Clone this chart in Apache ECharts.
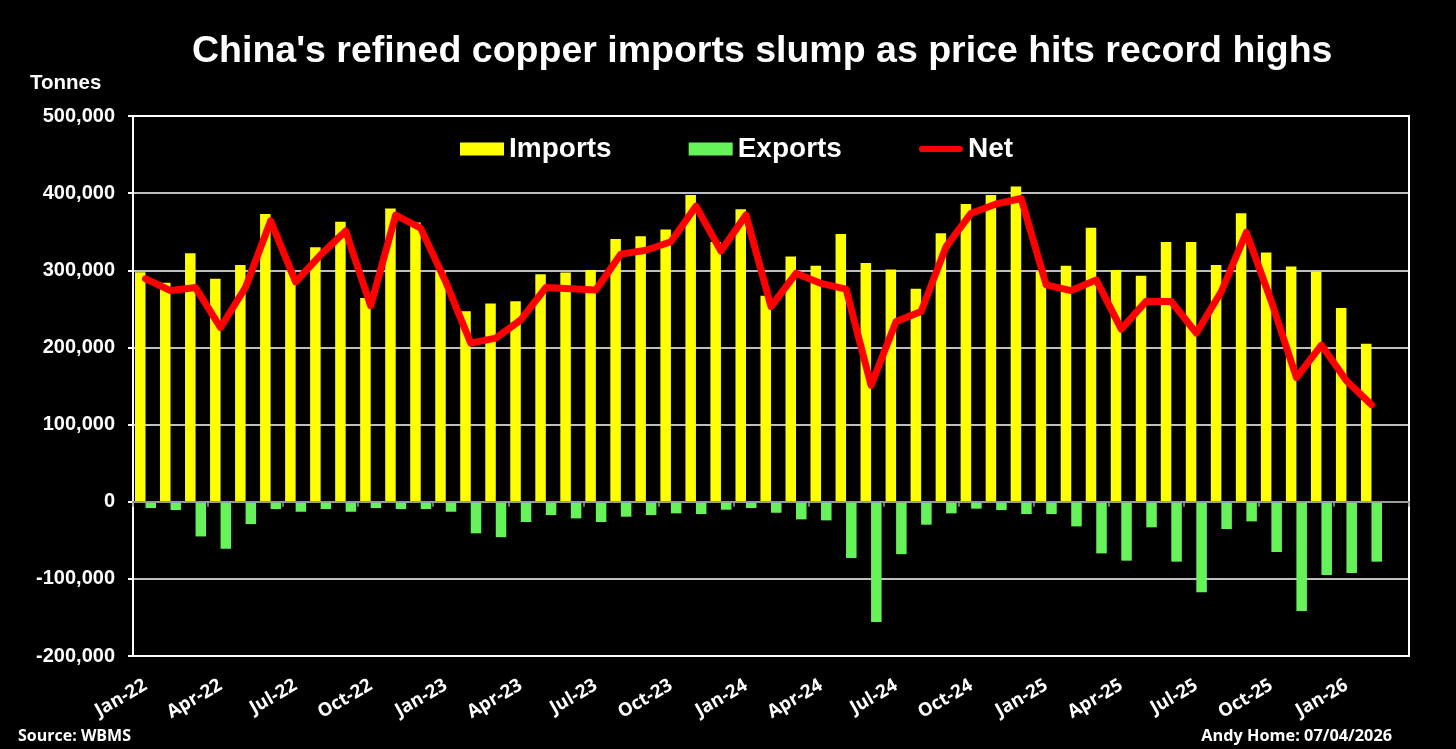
<!DOCTYPE html>
<html>
<head>
<meta charset="utf-8">
<title>China refined copper imports</title>
<script src="https://cdn.jsdelivr.net/npm/echarts@6/dist/echarts.min.js"></script>
<style>
  html, body { margin: 0; padding: 0; background: #000; }
  #chart { width: 1456px; height: 749px; }
</style>
</head>
<body>
<div id="chart"></div>
<script>
// months on the category axis (last one has no data yet)
const months = [
  "Jan-22", "Feb-22", "Mar-22", "Apr-22", "May-22", "Jun-22", "Jul-22", "Aug-22", "Sep-22", "Oct-22", "Nov-22", "Dec-22",
  "Jan-23", "Feb-23", "Mar-23", "Apr-23", "May-23", "Jun-23", "Jul-23", "Aug-23", "Sep-23", "Oct-23", "Nov-23", "Dec-23",
  "Jan-24", "Feb-24", "Mar-24", "Apr-24", "May-24", "Jun-24", "Jul-24", "Aug-24", "Sep-24", "Oct-24", "Nov-24", "Dec-24",
  "Jan-25", "Feb-25", "Mar-25", "Apr-25", "May-25", "Jun-25", "Jul-25", "Aug-25", "Sep-25", "Oct-25", "Nov-25", "Dec-25",
  "Jan-26", "Feb-26", "Mar-26"
];

// tonnes
const imports = [
  297500, 284000, 322000, 289000, 307000, 373000, 298000, 330000, 363000, 264000, 380000, 362000,
  298000, 247000, 257000, 260000, 295000, 297000, 300500, 340700, 344000, 353000, 397700, 336800,
  379000, 267000, 317800, 306000, 347000, 309600, 301000, 276000, 348000, 386000, 397700, 408500,
  298000, 306000, 355000, 300500, 293000, 336800, 336800, 307000, 374000, 323000, 305000, 298000,
  251000, 204700, null
];

const exports = [
  -8200, -10800, -45000, -61000, -29000, -9500, -13000, -9500, -13000, -8200, -9500, -9500,
  -13000, -41000, -46000, -26300, -17300, -21600, -26300, -19400, -17300, -15100, -16000, -10400,
  -8200, -14300, -22900, -24200, -73000, -156000, -68000, -29800, -15100, -9000, -10800, -16000,
  -16000, -32000, -67000, -76400, -33200, -77700, -117500, -35400, -25500, -65200, -141600, -95000,
  -92400, -77700, null
];

const net = [
  289000, 273700, 277600, 225800, 278000, 364000, 285000, 320000, 351000, 254000, 371700, 354500,
  285000, 205500, 212000, 235700, 277600, 276000, 274600, 321000, 326000, 337000, 383000, 325000,
  371700, 253000, 296000, 283000, 275500, 150700, 233600, 246500, 330700, 374000, 386000, 393000,
  281000, 273700, 287600, 223700, 260000, 259500, 218500, 272500, 349000, 259500, 161000, 203000,
  156700, 125600, null
];

const yTicks = { min: -200000, max: 500000, step: 100000 };

const chartDom = document.getElementById("chart");
const myChart = echarts.init(chartDom);

const sans = "'Liberation Sans', Arial, sans-serif";
const open = "'Open Sans', 'Noto Sans', sans-serif";

const option = {
  backgroundColor: "#000000",
  animation: false,
  title: {
    text: "China's refined copper imports slump as price hits record highs",
    left: 187,
    top: 28,
    textStyle: { color: "#ffffff", fontFamily: sans, fontWeight: "bold", fontSize: 37.5 },
  },
  graphic: [
    {
      type: "text", left: 30, top: 73,
      style: { text: "Tonnes", fill: "#ffffff", font: "bold 20.5px " + sans },
    },
    {
      type: "text", left: 18, top: 728,
      style: { text: "Source: WBMS", fill: "#ffffff", font: "bold 16px " + open },
    },
    {
      type: "text", right: 64, top: 728,
      style: { text: "Andy Home: 07/04/2026", fill: "#ffffff", font: "bold 16.3px " + open },
    },
  ],
  legend: {
    left: 455,
    top: 130,
    itemWidth: 44,
    itemHeight: 13,
    itemGap: 77,
    textStyle: { color: "#ffffff", fontFamily: sans, fontWeight: "bold", fontSize: 28 },
    data: [
      { name: "Imports", icon: "rect" },
      { name: "Exports", icon: "rect" },
      {
        name: "Net",
        icon: "path://M0,0M44,13M3,3.5L41,3.5A3,3,0,0,1,41,9.5L3,9.5A3,3,0,0,1,3,3.5Z",
      },
    ],
  },
  grid: {
    left: 133,
    right: 47,
    top: 116,
    bottom: 93,
    show: true,
    borderColor: "#ffffff",
    borderWidth: 2,
    backgroundColor: "transparent",
  },
  xAxis: [
    {
      type: "category",
      data: months,
      boundaryGap: true,
      axisLine: { onZero: true, lineStyle: { color: "#9a9a9a", width: 2 } },
      axisTick: { show: true, interval: 2, length: 5, lineStyle: { color: "#9a9a9a", width: 1.5 } },
      axisLabel: { show: false },
      splitLine: { show: false },
      z: 5,
    },
    {
      type: "category",
      data: months,
      position: "bottom",
      boundaryGap: true,
      axisLine: { show: false, onZero: false },
      axisTick: { show: false },
      axisLabel: {
        interval: 2,
        rotate: 30,
        margin: 28,
        color: "#ffffff",
        fontFamily: open,
        fontWeight: "bold",
        fontSize: 18.5,
      },
      splitLine: { show: false },
    },
  ],
  yAxis: {
    type: "value",
    min: yTicks.min,
    max: yTicks.max,
    interval: yTicks.step,
    axisLine: { show: true, lineStyle: { color: "#ffffff", width: 2 } },
    axisTick: { show: true, length: 5, lineStyle: { color: "#ffffff", width: 2 } },
    axisLabel: {
      margin: 18,
      color: "#ffffff",
      fontFamily: sans,
      fontWeight: "bold",
      fontSize: 20,
      formatter: (v) => v.toLocaleString("en-US"),
    },
    splitLine: { show: true, lineStyle: { color: "#ffffff", width: 1.5 } },
  },
  series: [
    {
      name: "Imports",
      type: "bar",
      xAxisIndex: 0,
      data: imports,
      barWidth: "42%",
      barGap: "0%",
      itemStyle: { color: "#ffff00" },
    },
    {
      name: "Exports",
      type: "bar",
      xAxisIndex: 0,
      data: exports,
      barWidth: "42%",
      barGap: "0%",
      itemStyle: { color: "#66f35a" },
    },
    {
      name: "Net",
      type: "line",
      xAxisIndex: 0,
      data: net,
      symbol: "none",
      z: 10,
      itemStyle: { color: "#ff0000" },
      lineStyle: { color: "#ff0000", width: 7, join: "round", cap: "round" },
    },
  ],
};

option && myChart.setOption(option);
</script>
</body>
</html>
